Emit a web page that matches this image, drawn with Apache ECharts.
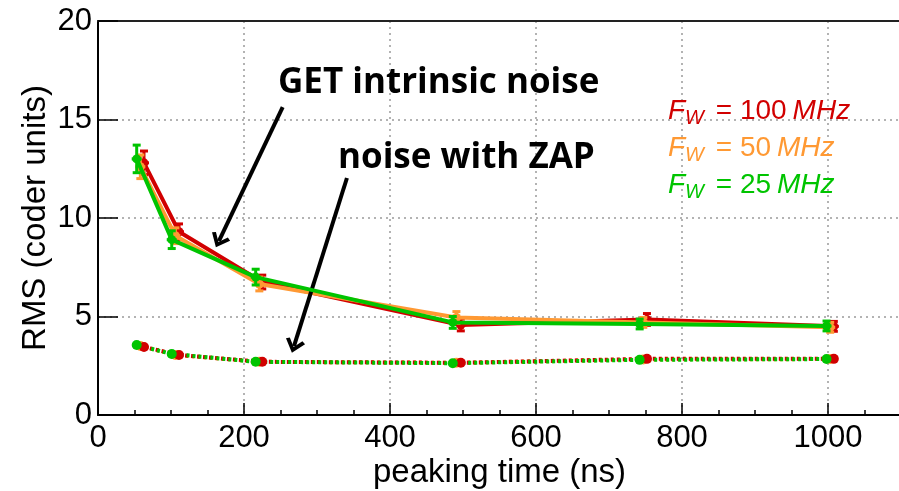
<!DOCTYPE html>
<html lang="en">
<head>
    <meta charset="UTF-8">
    <title>RMS noise vs peaking time</title>
    <script src="https://cdn.jsdelivr.net/npm/echarts@6.0.0/dist/echarts.min.js"></script>
    <style>
        html, body, #chart {
            width: 899px;
            height: 491px;
            padding: 0;
            margin: 0;
            background: #fff;
        }
    </style>
</head>
<body>
<div id="chart"></div>
<script>
    // filter frequencies (MHz) and colours
    var fwLabels = ["100", "50", "25"];
    var colors = ["#d10000", "#ff9933", "#00c400"];

    // peaking times (ns), shifted a little per curve like in the original plot
    var peakRed = [63, 111, 225, 497, 752, 1008];
    var peakOrange = [58, 106, 221, 491, 747, 1003];
    var peakGreen = [53, 101, 216, 486, 742, 998];

    // GET intrinsic noise (coder units)
    var rmsRed = [12.8, 9.3, 6.75, 4.57, 4.85, 4.5];
    var rmsOrange = [12.6, 9.1, 6.65, 4.95, 4.7, 4.45];
    var rmsGreen = [13.0, 8.9, 7.0, 4.7, 4.62, 4.52];
    var errRed = [0.6, 0.4, 0.35, 0.3, 0.3, 0.25];
    var errOrange = [0.6, 0.4, 0.35, 0.3, 0.25, 0.25];
    var errGreen = [0.7, 0.45, 0.4, 0.3, 0.25, 0.25];

    // noise with ZAP (coder units)
    var zapRed = [3.45, 3.05, 2.7, 2.65, 2.85, 2.85];
    var zapOrange = [3.5, 3.05, 2.7, 2.65, 2.82, 2.84];
    var zapGreen = [3.55, 3.1, 2.7, 2.63, 2.8, 2.84];

    var peaks = [peakRed, peakOrange, peakGreen];
    var rms = [rmsRed, rmsOrange, rmsGreen];
    var errs = [errRed, errOrange, errGreen];
    var zaps = [zapRed, zapOrange, zapGreen];

    function pairs(xs, ys) {
        return xs.map(function (x, i) { return [x, ys[i]]; });
    }

    function seriesName(i) {
        return "F_W = " + fwLabels[i] + "MHz";
    }

    var chevron = "path://M5,0 L10,8.6 L8.3,10 L5,4.2 L1.7,10 L0,8.6 Z";

    var series = [];
    // ZAP curves
    [1, 0, 2].forEach(function (i) {
        series.push({
            name: seriesName(i),
            type: "line",
            data: pairs(peaks[i], zaps[i]),
            symbol: "circle",
            symbolSize: 10,
            itemStyle: {color: colors[i]},
            lineStyle: {width: 4, type: [3, 3], dashOffset: i === 2 ? 3 : (i === 1 ? 1.5 : 0)},
            z: 3,
            silent: true
        });
    });
    // intrinsic noise curves with error bars
    [0, 1, 2].forEach(function (i) {
        series.push({
            name: seriesName(i),
            type: "line",
            data: pairs(peaks[i], rms[i]),
            symbol: "circle",
            symbolSize: 9,
            itemStyle: {color: colors[i]},
            lineStyle: {width: 4},
            z: 3 + i,
            silent: true
        });
        series.push({
            name: seriesName(i),
            type: "custom",
            data: peaks[i].map(function (x, k) {
                return [x, rms[i][k] - errs[i][k], rms[i][k] + errs[i][k]];
            }),
            renderItem: function (params, api) {
                var lo = api.coord([api.value(0), api.value(1)]);
                var hi = api.coord([api.value(0), api.value(2)]);
                var mid = (lo[1] + hi[1]) / 2;
                var st = {stroke: colors[i], lineWidth: 3};
                return {
                    type: "group",
                    children: [
                        {type: "line", shape: {x1: lo[0], y1: lo[1], x2: hi[0], y2: hi[1]}, style: st},
                        {type: "line", shape: {x1: lo[0] - 4, y1: lo[1], x2: lo[0] + 4, y2: lo[1]}, style: st},
                        {type: "line", shape: {x1: hi[0] - 4, y1: hi[1], x2: hi[0] + 4, y2: hi[1]}, style: st},
                        {type: "line", shape: {x1: lo[0] - 5, y1: mid, x2: lo[0] + 5, y2: mid}, style: st}
                    ]
                };
            },
            z: 3 + i,
            silent: true
        });
    });

    // annotation arrows
    series.push({
        type: "line",
        data: [],
        silent: true,
        markLine: {
            silent: true,
            symbol: ["none", chevron],
            symbolSize: [20, 14],
            label: {show: false},
            lineStyle: {color: "#000", width: 4, type: "solid"},
            emphasis: {disabled: true},
            data: [
                [{coord: [253, 15.63]}, {coord: [165.6, 8.83]}],
                [{coord: [341, 12.03]}, {coord: [268.5, 3.5]}]
            ]
        },
        z: 10
    });

    var myChart = echarts.init(document.getElementById("chart"));
    myChart.setOption({
        animation: false,
        textStyle: {fontFamily: "Liberation Sans"},
        grid: {
            left: 98,
            right: -2,
            top: 21,
            bottom: 76,
            containLabel: false,
            outerBoundsMode: "none"
        },
        legend: {
            orient: "vertical",
            left: 658,
            top: 91,
            icon: "none",
            itemWidth: 0,
            itemHeight: 30,
            itemGap: 5,
            selectedMode: false,
            data: fwLabels.map(function (f, i) {
                return {name: seriesName(i), textStyle: {color: colors[i]}};
            }),
            formatter: function (name) {
                var f = name.replace("F_W = ", "").replace("MHz", "");
                return "{f|F}{w|W}{e| = " + f + "}{m|MHz}";
            },
            textStyle: {
                fontFamily: "Liberation Sans",
                fontSize: 28,
                rich: {
                    f: {fontSize: 28, fontStyle: "italic", fontFamily: "Liberation Sans", lineHeight: 34, verticalAlign: "middle"},
                    w: {fontSize: 20, fontStyle: "italic", fontFamily: "Liberation Sans", lineHeight: 34, verticalAlign: "bottom", padding: [0, 4, 0, 0]},
                    e: {fontSize: 28, fontFamily: "Liberation Sans", lineHeight: 34, verticalAlign: "middle"},
                    m: {fontSize: 28, fontStyle: "italic", fontFamily: "Liberation Sans", lineHeight: 34, verticalAlign: "middle", padding: [0, 0, 0, 6]}
                }
            }
        },
        xAxis: [{
            type: "value",
            min: 0,
            max: 1100,
            interval: 200,
            name: "peaking time (ns)",
            nameLocation: "middle",
            nameGap: 41,
            nameMoveOverlap: false,
            nameTextStyle: {fontSize: 33, color: "#000", fontFamily: "Liberation Sans"},
            axisLine: {lineStyle: {color: "#000", width: 2}},
            axisTick: {inside: true, length: 12, lineStyle: {color: "#000", width: 1.5}},
            minorTick: {show: true, splitNumber: 4, length: 5, lineStyle: {color: "#000", width: 1.5}},
            axisLabel: {fontSize: 31, color: "#000", margin: 8, showMaxLabel: false,
                formatter: function (v) { return v > 1000 ? "" : String(v); }},
            splitLine: {show: true, lineStyle: {color: "#9a9a9a", width: 1.5, type: [2, 4]}}
        }, {
            type: "value",
            position: "top",
            min: 0,
            max: 1100,
            axisLine: {show: true, lineStyle: {color: "#222", width: 2}},
            axisTick: {show: false},
            axisLabel: {show: false},
            splitLine: {show: false}
        }],
        yAxis: {
            type: "value",
            min: 0,
            max: 20,
            interval: 5,
            name: "RMS (coder units)",
            nameLocation: "middle",
            nameGap: 46,
            nameMoveOverlap: false,
            nameTextStyle: {fontSize: 33, color: "#000", fontFamily: "Liberation Sans"},
            axisLine: {show: true, lineStyle: {color: "#000", width: 2}},
            axisTick: {show: true, inside: true, length: 20, lineStyle: {color: "#000", width: 1.5}},
            axisLabel: {fontSize: 31, color: "#000", margin: 6},
            splitLine: {show: true, lineStyle: {color: "#9a9a9a", width: 1.5, type: [2, 4]}}
        },
        graphic: [{
            type: "text",
            left: 278,
            top: 66,
            style: {text: "GET intrinsic noise", font: "bold 35px 'Open Sans'", fill: "#000"},
            z: 20
        }, {
            type: "text",
            left: 338,
            top: 141,
            style: {text: "noise with ZAP", font: "bold 35px 'Open Sans'", fill: "#000"},
            z: 20
        }],
        series: series
    });
</script>
</body>
</html>
